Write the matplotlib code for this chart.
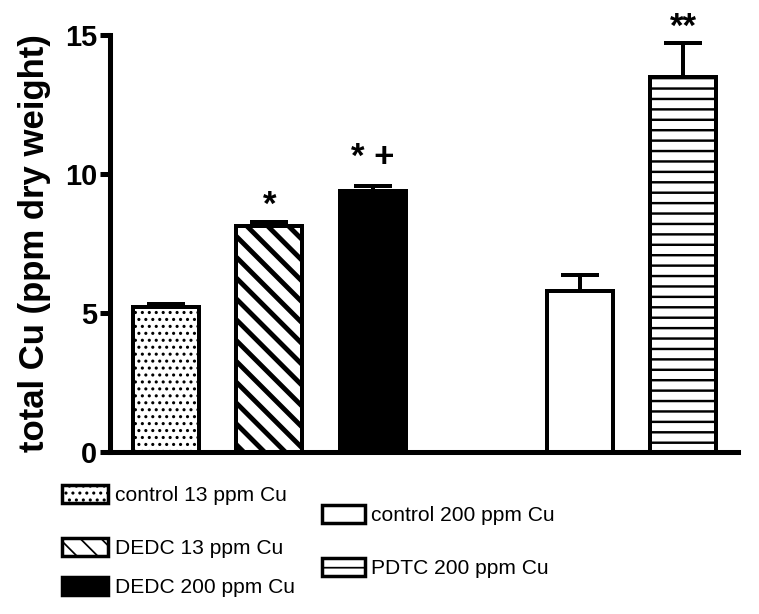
import matplotlib
matplotlib.use("Agg")
import matplotlib.pyplot as plt
from matplotlib.patches import Patch

plt.rcParams['font.family'] = ['Liberation Sans', 'DejaVu Sans']

groups = ['control 13 ppm Cu', 'DEDC 13 ppm Cu', 'DEDC 200 ppm Cu',
          'control 200 ppm Cu', 'PDTC 200 ppm Cu']
means = [5.22, 8.13, 9.39, 5.79, 13.49]
sem = [0.11, 0.16, 0.19, 0.57, 1.22]
marks = ['', '*', '* +', '', '**']
mark_y = [0, 9.03, 10.76, 0, 15.43]
yticks = [0, 5, 10, 15]

positions = [0, 1, 2, 4, 5]
hatches = ['...', '\\\\', '', '', '--']
faces = ['white', 'white', 'black', 'white', 'white']
hatch_lw = [1.0, 2.8, 1.0, 1.0, 1.4]

DPI = 125
fig = plt.figure(figsize=(759 / DPI, 614 / DPI), dpi=DPI)
ax = fig.add_axes([110 / 759, 1 - 452 / 614, 628 / 759, 417 / 614])

for i in range(len(groups)):
    with plt.rc_context({'hatch.linewidth': hatch_lw[i]}):
        b = ax.bar(positions[i], means[i], width=0.64, color=faces[i],
                   edgecolor='black', linewidth=2.3, hatch=hatches[i] or None,
                   zorder=2)
    for p in b:
        if hasattr(p, 'set_hatch_linewidth'):
            p.set_hatch_linewidth(hatch_lw[i])

ax.errorbar(positions, means, yerr=[[0] * len(sem), sem], fmt='none',
            ecolor='black', elinewidth=2.3, capsize=11, capthick=2.3, zorder=3)

# star glyph centre sits roughly 0.4 em above the baseline here
fs_mark = 20
for x, yc, t in zip(positions, mark_y, marks):
    if t:
        ax.annotate(t, (x, yc), xytext=(0, -0.40 * fs_mark),
                    textcoords='offset points', ha='center', va='baseline',
                    fontsize=fs_mark, fontweight='bold', annotation_clip=False)

ax.set_xlim(-0.54, 5.53)
ax.set_ylim(0, 15)
ax.set_xticks([])
ax.set_yticks(yticks)
ax.tick_params(axis='y', length=5.8, width=2.9, pad=1.7, labelsize=16.7)
for lab in ax.get_yticklabels():
    lab.set_fontweight('bold')
for s in ['top', 'right']:
    ax.spines[s].set_visible(False)
for s in ['left', 'bottom']:
    ax.spines[s].set_linewidth(2.9)
ax.set_ylabel('total Cu (ppm dry weight)', fontsize=20, fontweight='bold',
              labelpad=8)

handles = [Patch(facecolor=faces[i], edgecolor='black', linewidth=2,
                 hatch=hatches[i] or None, label=groups[i]) for i in range(5)]

leg_kw = dict(frameon=False, fontsize=12.1, handleheight=0.95,
              handletextpad=0.3, borderpad=0, borderaxespad=0, loc='upper left')
leg1 = fig.legend(handles=handles[:2], labelspacing=1.55, handlelength=2.2,
                  bbox_to_anchor=(62 / 759, 1 - 485 / 614), **leg_kw)
leg2 = fig.legend(handles=handles[2:3], handlelength=2.2,
                  bbox_to_anchor=(62 / 759, 1 - 577 / 614), **leg_kw)
leg3 = fig.legend(handles=handles[3:], labelspacing=1.55, handlelength=2.05,
                  bbox_to_anchor=(322 / 759, 1 - 505 / 614), **leg_kw)

fig.savefig('out.png', dpi=DPI)
